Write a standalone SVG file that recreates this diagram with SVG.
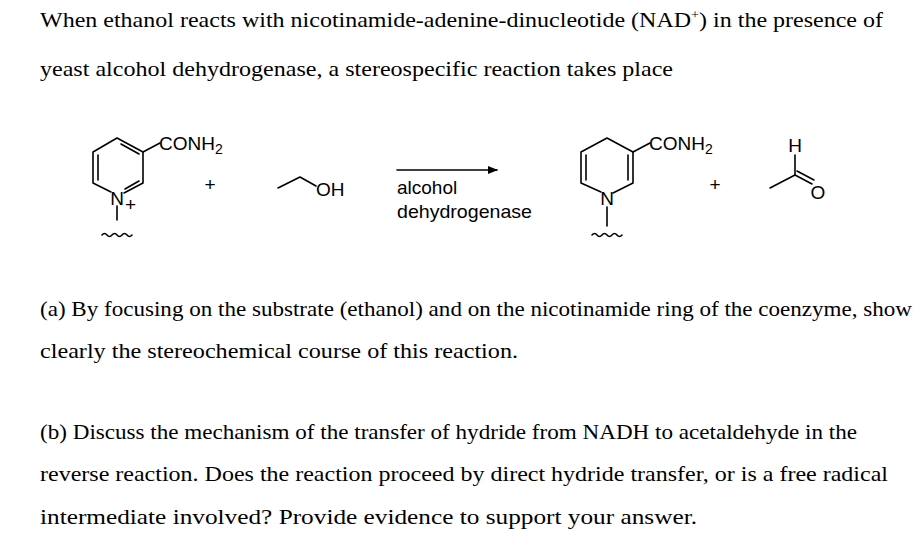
<svg xmlns="http://www.w3.org/2000/svg" width="920" height="535" viewBox="0 0 920 535">
<style>
.t{font-family:"Liberation Serif",serif;font-size:22px;fill:#000}
.c{font-family:"Liberation Sans",Arial,sans-serif;font-size:19px;fill:#000}
.b{stroke:#000;stroke-width:1.6;fill:none;stroke-linecap:round;stroke-linejoin:round}
</style>
<defs><marker id="ah" markerWidth="10" markerHeight="8" refX="9" refY="4" orient="auto" markerUnits="userSpaceOnUse"><path d="M0,0 L10,4 L0,8 Z" fill="#000"/></marker></defs>
<rect width="920" height="535" fill="#fff"/>
<g id="text">
<text class="t" x="40" y="27" textLength="843" lengthAdjust="spacingAndGlyphs">When ethanol reacts with nicotinamide-adenine-dinucleotide (NAD<tspan font-size="13" dy="-8">+</tspan><tspan dy="8">) in the presence of</tspan></text>
<text class="t" x="40" y="76" textLength="633" lengthAdjust="spacingAndGlyphs">yeast alcohol dehydrogenase, a stereospecific reaction takes place</text>
<text class="t" x="40" y="316" textLength="872" lengthAdjust="spacingAndGlyphs">(a) By focusing on the substrate (ethanol) and on the nicotinamide ring of the coenzyme, show</text>
<text class="t" x="40" y="358" textLength="478" lengthAdjust="spacingAndGlyphs">clearly the stereochemical course of this reaction.</text>
<text class="t" x="40" y="439" textLength="817" lengthAdjust="spacingAndGlyphs">(b) Discuss the mechanism of the transfer of hydride from NADH to acetaldehyde in the</text>
<text class="t" x="40" y="481" textLength="848" lengthAdjust="spacingAndGlyphs">reverse reaction. Does the reaction proceed by direct hydride transfer, or is a free radical</text>
<text class="t" x="40" y="524" textLength="657" lengthAdjust="spacingAndGlyphs">intermediate involved? Provide evidence to support your answer.</text>
</g>
<g id="nad">
<path class="b" d="M111,192 L93,183 L93,152 L117,138 L143,152 L143,183 L124,193"/>
<path class="b" d="M98,180 L98,155 M121,144 L139,154 M139,181 L125,189 M143,152 L160,143 M117,206 L117,220"/>
<path class="b" d="M102,235 q2.5,-3 5,0 t5,0 t5,0 t5,0 t5,0 t5,0"/>
<text class="c" x="117" y="205" text-anchor="middle">N</text>
<text class="c" x="125" y="211" font-size="16">+</text>
<text class="c" x="159" y="150">CONH<tspan font-size="14" dy="4">2</tspan></text>
</g>
<g id="plus1"><text class="c" x="210" y="191" text-anchor="middle">+</text></g>
<g id="ethanol">
<path class="b" d="M278,188 L300,177 L316,186"/>
<text class="c" x="316" y="196">OH</text>
</g>
<g id="connectors">
<line class="b" x1="397" y1="170" x2="497" y2="170" marker-end="url(#ah)"/>
<text class="c" x="397" y="194">alcohol</text>
<text class="c" x="397" y="218" textLength="135" lengthAdjust="spacingAndGlyphs">dehydrogenase</text>
</g>
<g id="nadh">
<path class="b" d="M601,192 L581,183 L581,152 L607,138 L633,152 L633,183 L613,193"/>
<path class="b" d="M586,180 L586,155 M628,180 L628,155 M633,152 L650,143 M607,207 L607,226"/>
<path class="b" d="M592,235 q2.5,-3 5,0 t5,0 t5,0 t5,0 t5,0 t5,0"/>
<text class="c" x="607" y="205" text-anchor="middle">N</text>
<text class="c" x="649" y="150">CONH<tspan font-size="14" dy="4">2</tspan></text>
</g>
<g id="plus2"><text class="c" x="715" y="191" text-anchor="middle">+</text></g>
<g id="acetaldehyde">
<path class="b" d="M770,188 L795,175 L795,155 M795,175 L812,184 M797,171 L814,180"/>
<text class="c" x="795" y="152" text-anchor="middle" font-size="16">H</text>
<text class="c" x="818" y="199" text-anchor="middle">O</text>
</g>
</svg>
